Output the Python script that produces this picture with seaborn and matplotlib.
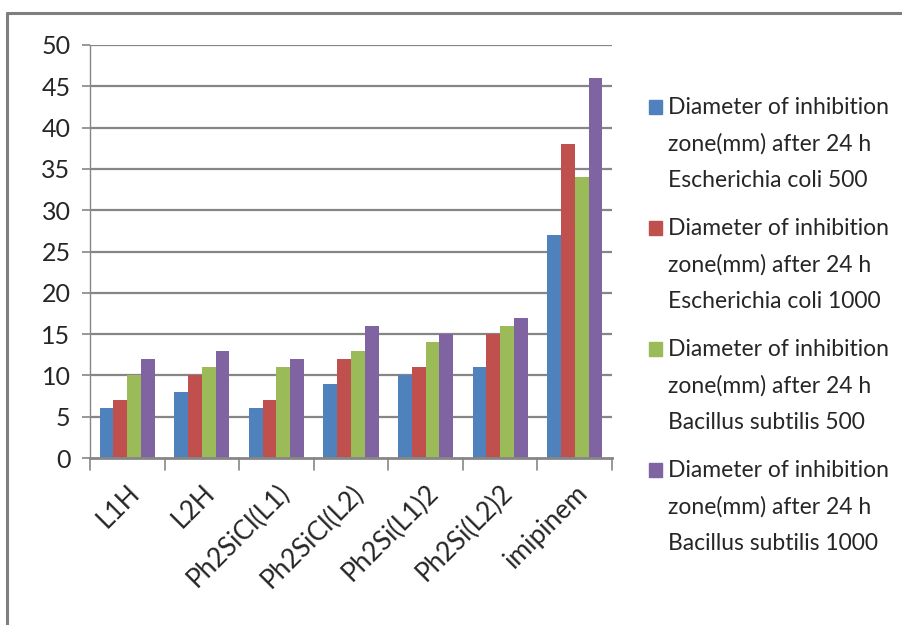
import numpy as np
import pandas as pd
import matplotlib
matplotlib.use('Agg')
import matplotlib.pyplot as plt
import seaborn as sns
from matplotlib.patches import Rectangle

categories = ['L1H', 'L2H', 'Ph2SiCl(L1)', 'Ph2SiCl(L2)', 'Ph2Si(L1)2', 'Ph2Si(L2)2', 'imipinem']
ecoli_500 = [6, 8, 6, 9, 10, 11, 27]
ecoli_1000 = [7, 10, 7, 12, 11, 15, 38]
bsub_500 = [10, 11, 11, 13, 14, 16, 34]
bsub_1000 = [12, 13, 12, 16, 15, 17, 46]
series_names = [
    'Diameter of inhibition\nzone(mm) after 24 h\nEscherichia coli 500',
    'Diameter of inhibition\nzone(mm) after 24 h\nEscherichia coli 1000',
    'Diameter of inhibition\nzone(mm) after 24 h\nBacillus subtilis 500',
    'Diameter of inhibition\nzone(mm) after 24 h\nBacillus subtilis 1000',
]
colors = ['#4F81BD', '#C0504D', '#9BBB59', '#8064A2']
y_ticks = [0, 5, 10, 15, 20, 25, 30, 35, 40, 45, 50]

df = pd.DataFrame({
    'category': categories * 4,
    'series': np.repeat(series_names, len(categories)),
    'value': ecoli_500 + ecoli_1000 + bsub_500 + bsub_1000,
})

sns.set_style('white')
plt.rcParams['font.family'] = ['Lato', 'DejaVu Sans']
grid_c = '#868686'

fig = plt.figure(figsize=(9.03, 6.25), dpi=100)
ax = fig.add_axes([90 / 903, 1 - 458 / 625, 522 / 903, 413 / 625])

sns.barplot(data=df, x='category', y='value', hue='series', palette=colors,
            width=0.74, saturation=1, ax=ax, legend=False)
for p in ax.patches:
    p.set_linewidth(0)

ax.set_ylim(0, 50)
ax.set_xlim(-0.5, len(categories) - 0.5)
ax.set_yticks(y_ticks)
ax.set_yticklabels([str(t) for t in y_ticks], fontsize=18)
for t in y_ticks[1:]:
    ax.axhline(t, color=grid_c, linewidth=1.6, zorder=0.5)
ax.set_axisbelow(True)

ax.set_xticks(np.arange(len(categories)))
ax.set_xticklabels(categories, rotation=45, ha='right', rotation_mode='anchor',
                   fontsize=19)
ax.tick_params(axis='x', length=0, pad=16)
ax.tick_params(axis='y', length=6, color=grid_c, width=1.2, pad=8, left=True)
# category separators below the axis
for b in np.arange(-0.5, len(categories), 1.0):
    ax.plot([b, b], [0, -0.03], transform=ax.get_xaxis_transform(), color=grid_c,
            linewidth=1.2, clip_on=False)

for s in ['top', 'right']:
    ax.spines[s].set_visible(False)
ax.spines['left'].set_color(grid_c)
ax.spines['left'].set_linewidth(1.0)
ax.spines['bottom'].set_color(grid_c)
ax.spines['bottom'].set_linewidth(2.0)
ax.set_xlabel('')
ax.set_ylabel('')

# legend
y0 = 1 - 107 / 625
for i, (name, c) in enumerate(zip(series_names, colors)):
    yy = y0 - i * 121 / 625
    fig.patches.append(Rectangle((649 / 903, yy - 7 / 625), 13 / 903, 14 / 625,
                                 transform=fig.transFigure, color=c))
    fig.text(668 / 903, yy + 10 / 625, name, fontsize=16.5, va='top',
             linespacing=1.88)

# outer frame
fig.add_artist(plt.Line2D([7 / 903, 1], [1 - 13 / 625] * 2, color='#7F7F7F',
                          linewidth=2.2, transform=fig.transFigure))
fig.add_artist(plt.Line2D([7 / 903] * 2, [0, 1 - 13 / 625], color='#7F7F7F',
                          linewidth=2.2, transform=fig.transFigure))

fig.savefig('out.png', dpi=100)
